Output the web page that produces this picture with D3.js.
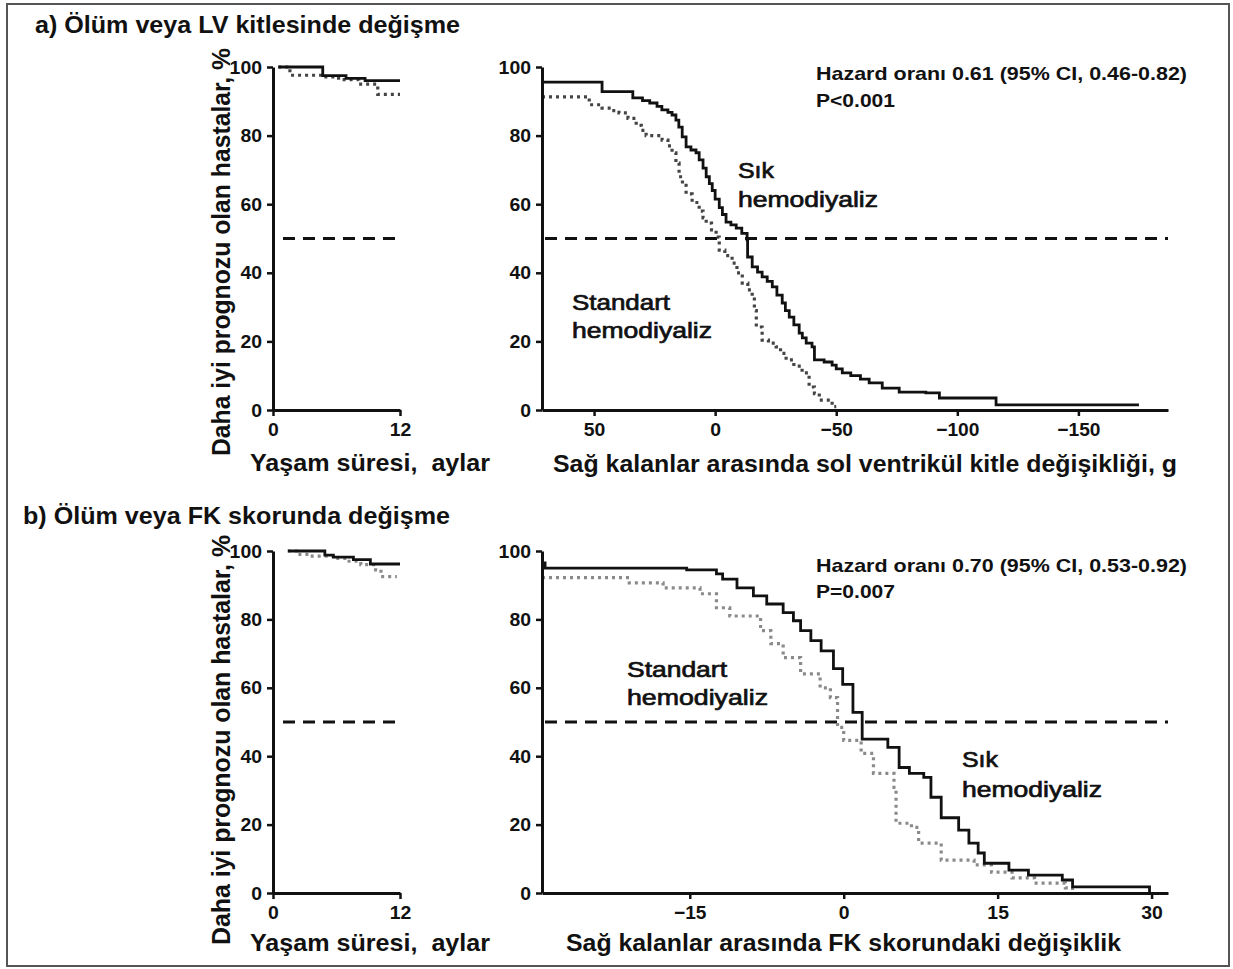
<!DOCTYPE html>
<html><head><meta charset="utf-8">
<script src="https://cdn.jsdelivr.net/npm/d3@7"></script>
<style>
html,body{margin:0;padding:0;background:#fff;}
svg text{font-family:"Liberation Sans",Arial,sans-serif;fill:#111;white-space:pre;}
</style></head>
<body>
<svg id="chart" width="1233" height="969"></svg>
<script>
// ---------- DATA ----------
const yTicks = [0, 20, 40, 60, 80, 100];
const monthTicks = [0, 12];
const massTicks = [50, 0, -50, -100, -150];
const fkTicks = [-15, 0, 15, 30];
const medianLine = 50;

// Panel a, left: follow-up months
const aMonthsFrequent = [[0.5,100],[4.7,97.5],[6.9,96.7],[8.7,96],[12,96]];
const aMonthsStandard = [[0.5,100],[1.6,97.6],[4.7,97.1],[6.2,96.3],[8.1,95],[9.9,92],[12,92]];

// Panel a, right: LV mass change (g), axis reversed
const aMassFrequent = [[71.5,95.6],[46.7,92.8],[34,91],[30,90.2],[27,89.5],[24,88.5],[22,87.5],[19.5,86.8],[17.8,86],[16.2,84.5],[15,82.5],[13.6,79.6],[12,76.7],[10,75.8],[7.9,75],[6.6,72.9],[5,70.5],[3.7,68],[2.4,66],[1.2,64],[0,61.5],[-1.7,59],[-3,57],[-4.5,54.8],[-6.5,54],[-8.7,53],[-11,51.5],[-13.2,49.6],[-13.4,44.6],[-15.3,41.7],[-17.5,40.2],[-19.4,38.8],[-21.5,37.5],[-23.6,35.9],[-25.5,33.5],[-27.7,31.2],[-29,29],[-30.6,27.1],[-32.5,24.8],[-34.7,22.4],[-36,21],[-37.6,19.5],[-40,18.4],[-41,14.6],[-45,14],[-48.3,13.1],[-50,12],[-52.5,10.8],[-56,10],[-60,9],[-63.6,7.9],[-69,6.4],[-76,5.2],[-87,5],[-92.6,3.5],[-113.5,3.5],[-116,1.5],[-175,1.5]];
const aMassStandard = [[71.5,91.3],[52,89],[46.7,88],[43,87.3],[39.7,86.6],[36,85],[32.6,83],[30.5,81.5],[28.5,80],[21.9,78.7],[19.5,77],[17.8,75],[16.2,72],[14.9,68],[13.5,65.5],[12,63],[9.5,60.5],[6.6,58],[5,56],[3.7,54.5],[1.5,52.5],[-0.4,50.4],[-1.7,46.6],[-4,45],[-7,42.8],[-9,40],[-11.2,37],[-13.5,35],[-15.3,33],[-16.2,29],[-17,24.2],[-19.4,20.4],[-22,19.5],[-25.2,18.4],[-27,16.5],[-29.3,14.6],[-32.5,12.8],[-35.9,10.8],[-38.8,6.7],[-41,4.8],[-43,2.9],[-48.3,1],[-50,1]];

// Panel b, left: follow-up months
const bMonthsFrequent = [[1.4,100],[4.9,98.8],[5.7,98.2],[7.6,97.5],[9.2,96.2],[12,96.2]];
const bMonthsStandard = [[1.4,100],[2.2,99],[3.5,98.5],[5.7,97.8],[7,97],[8.3,96],[9.7,94.5],[10.2,92.5],[11.7,92.5]];

// Panel b, right: FK score change
const bFkFrequent = [[-29.4,96.5],[-29.1,95],[-15.3,94.5],[-12.4,93.3],[-11.8,91.8],[-10.4,89.2],[-8.8,86.9],[-7.5,84.5],[-5.9,82],[-4.9,79.6],[-4.2,76.7],[-3.2,73.8],[-2.2,70.8],[-1,65.6],[-0.1,61],[0.9,52.8],[1.8,45],[4.3,42.6],[5.4,36.7],[6.4,35],[7.8,33.8],[8.5,28],[9.5,22],[11.2,18.4],[12.2,14.6],[13.1,11.7],[13.7,8.7],[16.1,6.7],[18,5.2],[21.3,3.8],[22.3,1.8],[29.8,0]];
const bFkStandard = [[-29.4,92.2],[-20.9,90.7],[-17.6,89.2],[-14,87.5],[-12.4,83.4],[-11.1,81],[-8.1,76.7],[-7.1,72.9],[-5.9,68.8],[-4.2,64.1],[-2.3,60],[-1.3,57.1],[-0.6,48.4],[0,44.6],[1.7,40.8],[2.9,35],[4.9,30.9],[5.1,20.4],[6.6,19.2],[7.3,14.6],[9.5,9.6],[12.7,8.2],[14.4,6.1],[16.4,4.4],[18.6,2.9],[21.6,1.5],[22.3,0.5]];

const titles = ["a) Ölüm veya LV kitlesinde değişme", "b) Ölüm veya FK skorunda değişme"];
const yTitle = "Daha iyi prognozu olan hastalar, %";
const monthTitle = "Yaşam süresi,  aylar";
const massTitle = "Sağ kalanlar arasında sol ventrikül kitle değişikliği, g";
const fkTitle = "Sağ kalanlar arasında FK skorundaki değişiklik";
const hazardA = ["Hazard oranı 0.61 (95% CI, 0.46-0.82)", "P<0.001"];
const hazardB = ["Hazard oranı 0.70 (95% CI, 0.53-0.92)", "P=0.007"];
const freqLabel = ["Sık", "hemodiyaliz"];
const stdLabel = ["Standart", "hemodiyaliz"];

// ---------- DRAW ----------
const svg = d3.select("#chart");
svg.append("rect").attr("x",7).attr("y",4).attr("width",1222).attr("height",962)
  .attr("fill","none").attr("stroke","#555").attr("stroke-width",2);

function fmt(v){ return v < 0 ? "\u2212" + Math.abs(v) : String(v); }

function panel(cfg){
  const x = d3.scaleLinear().domain(cfg.xDomain).range(cfg.xRange);
  const y = d3.scaleLinear().domain([0,100]).range(cfg.yRange);
  const g = svg.append("g");

  g.append("line").attr("x1", cfg.dashX[0]).attr("x2", cfg.dashX[1])
    .attr("y1", y(medianLine)).attr("y2", y(medianLine))
    .attr("stroke","#111").attr("stroke-width",3).attr("stroke-dasharray","12,8");

  const line = d3.line().x(d=>x(d[0])).y(d=>y(d[1])).curve(d3.curveStepAfter);
  g.append("path").datum(cfg.standard).attr("d", line).attr("fill","none")
    .attr("stroke", cfg.dotColor).attr("stroke-width",3.2).attr("stroke-dasharray","3,4");
  g.append("path").datum(cfg.frequent).attr("d", line).attr("fill","none")
    .attr("stroke","#111").attr("stroke-width",2.8);

  const ya = g.append("g").attr("transform",`translate(${cfg.xRange[0]},0)`)
    .call(d3.axisLeft(y).tickValues(yTicks).tickSize(6).tickSizeOuter(0).tickPadding(5));
  const xa = g.append("g").attr("transform",`translate(0,${cfg.yRange[0]})`)
    .call(d3.axisBottom(x).tickValues(cfg.xTicks).tickFormat(fmt).tickSize(6).tickSizeOuter(0).tickPadding(7));
  [ya, xa].forEach(a=>{
    a.select(".domain").attr("stroke","#111").attr("stroke-width",3);
    a.selectAll(".tick line").attr("stroke","#111").attr("stroke-width",2.5);
    a.selectAll(".tick text").attr("fill","#111").style("font-size","19px")
      .style("font-weight","bold").style("font-family","'Liberation Sans',Arial,sans-serif")
      .attr("textLength", function(){ return this.textContent.length * 10.8; })
      .attr("lengthAdjust","spacingAndGlyphs");
  });
  return {x, y, g};
}

function txt(s, x, y, size, len, weight, anchor){
  const t = svg.append("text").attr("x",x).attr("y",y).text(s)
    .style("font-size", size+"px").style("font-weight", weight||"bold")
    .attr("text-anchor", anchor||"start");
  if (len) t.attr("textLength", len).attr("lengthAdjust","spacingAndGlyphs");
  return t;
}
function vtxt(s, cx, cy, size, len){
  svg.append("text").attr("transform",`translate(${cx},${cy}) rotate(-90)`)
    .attr("text-anchor","middle").text(s)
    .style("font-size", size+"px").style("font-weight","bold")
    .attr("textLength", len).attr("lengthAdjust","spacingAndGlyphs");
}

panel({xDomain:[0,12], xRange:[273,400], yRange:[410,67], xTicks:monthTicks, dashX:[283,403],
  frequent:aMonthsFrequent, standard:aMonthsStandard, dotColor:"#444"});
panel({xDomain:[71.5,-187], xRange:[542,1168], yRange:[410,67], xTicks:massTicks, dashX:[545,1168],
  frequent:aMassFrequent, standard:aMassStandard, dotColor:"#444"});
panel({xDomain:[0,12], xRange:[273,400], yRange:[893,551], xTicks:monthTicks, dashX:[283,403],
  frequent:bMonthsFrequent, standard:bMonthsStandard, dotColor:"#8a8a8a"});
panel({xDomain:[-29.4,31.6], xRange:[542,1168], yRange:[893,551], xTicks:fkTicks, dashX:[545,1168],
  frequent:bFkFrequent, standard:bFkStandard, dotColor:"#8a8a8a"});

txt(titles[0], 35, 33, 24, 425);
txt(titles[1], 23, 524, 24, 427);
vtxt(yTitle, 230, 252, 25, 408);
vtxt(yTitle, 230, 740, 25, 410);
txt(monthTitle, 250, 471, 24, 240);
txt(monthTitle, 250, 951, 24, 240);
txt(massTitle, 553, 472, 23, 624);
txt(fkTitle, 566, 951, 23, 555);

txt(hazardA[0], 816, 80, 19, 371);
txt(hazardA[1], 816, 107, 19, 79);
txt(hazardB[0], 816, 572, 19, 371);
txt(hazardB[1], 816, 598, 19, 79);

txt(freqLabel[0], 738, 178, 22, 36, "normal");
txt(freqLabel[1], 738, 207, 22, 140, "normal");
txt(stdLabel[0], 572, 310, 22, 98, "normal");
txt(stdLabel[1], 572, 338, 22, 140, "normal");
txt(stdLabel[0], 627, 677, 22, 100, "normal");
txt(stdLabel[1], 627, 705, 22, 141, "normal");
txt(freqLabel[0], 962, 767, 22, 36, "normal");
txt(freqLabel[1], 962, 797, 22, 140, "normal");
svg.selectAll("text").filter(function(){return this.style.fontWeight==="normal";})
  .attr("stroke","#111").attr("stroke-width",0.7);
</script>
</body></html>
